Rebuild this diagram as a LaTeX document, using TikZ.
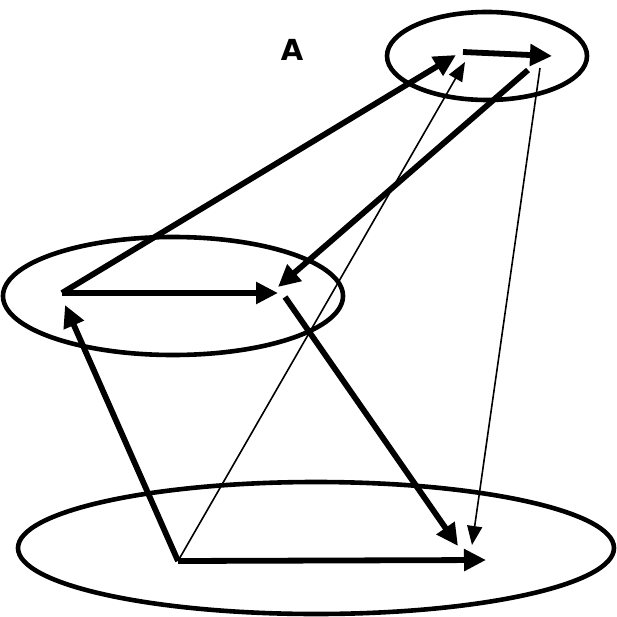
\documentclass[tikz,border=0pt]{standalone}
\usepackage{fontspec}
\setmainfont{DejaVu Sans}
\usetikzlibrary{arrows.meta}
\begin{document}
\begin{tikzpicture}[x=1pt,y=-1pt,
  ring/.style={draw=black,line width=4.6pt},
  thick arrow/.style={draw=black,line width=5.8pt,-{Triangle[length=22pt,width=21pt]}},
  thin arrow/.style={draw=black,line width=1.6pt,-{Triangle[length=19pt,width=15pt]}}]
\useasboundingbox (0,0) rectangle (616,617);
% ellipses
\draw[ring] (487,56) ellipse [x radius=100, y radius=44];
\draw[ring] (173,296) ellipse [x radius=170, y radius=59];
\draw[ring] (316,548) ellipse [x radius=298, y radius=66];
% label
\node[font=\bfseries\fontsize{29}{32}\selectfont, inner sep=0pt] (lblA) at (292,50) {A};
% coordinates
\coordinate (T1) at (463,52);
\coordinate (T2) at (552,56);
\coordinate (Tin) at (456,55);
\coordinate (Tthin) at (465,62);
\coordinate (T3) at (528,70);
\coordinate (T4) at (540,68);
\coordinate (M1) at (62,293);
\coordinate (M2) at (278,293);
\coordinate (Min) at (278,287);
\coordinate (M3) at (285,297);
\coordinate (Mup) at (65,305);
\coordinate (B1) at (178,561);
\coordinate (B2) at (486,560);
\coordinate (Bmid) at (458,546);
\coordinate (Bthin) at (472,545);
% arrows
\draw[thick arrow] (T1) -- (T2);
\draw[thick arrow] (M1) -- (Tin);
\draw[thick arrow] (M1) -- (M2);
\draw[thick arrow] (T3) -- (Min);
\draw[thick arrow] (M3) -- (Bmid);
\draw[thick arrow] (B1) -- (Mup);
\draw[thick arrow] (B1) -- (B2);
\draw[thin arrow] (B1) -- (Tthin);
\draw[thin arrow] (T4) -- (Bthin);
\end{tikzpicture}
\end{document}
